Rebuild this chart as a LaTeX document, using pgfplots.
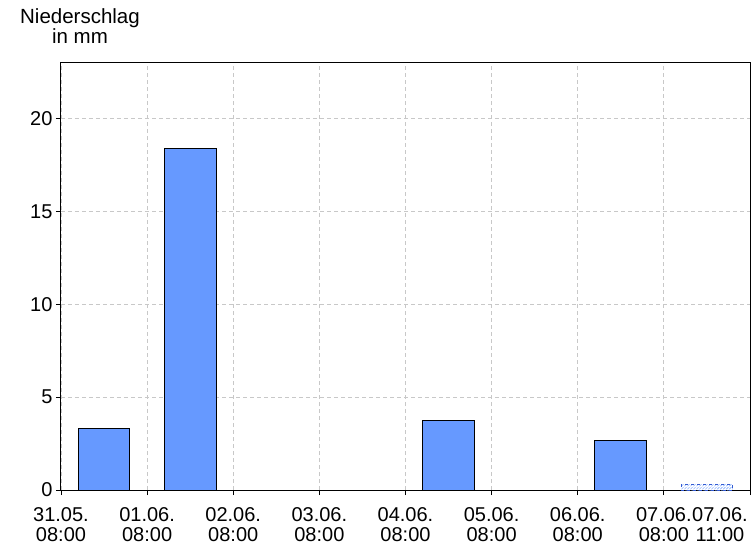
\documentclass[border=0pt]{standalone}
\usepackage{fontspec}
\setmainfont{Liberation Sans}
\usepackage{pgfplots}
\pgfplotsset{compat=1.18}
\usetikzlibrary{patterns}
\definecolor{barblue}{RGB}{102,153,255}
\definecolor{hatchblue}{RGB}{50,90,210}
\definecolor{gridgray}{RGB}{200,200,200}
\begin{document}
\begin{tikzpicture}
\path (-61bp,-56bp) rectangle (695bp,490bp);
\begin{axis}[
    at={(0,0)}, anchor=south west,
    scale only axis,
    width=689bp, height=427bp,
    xmin=0, xmax=8,
    ymin=0, ymax=23,
    axis line style={line width=1bp},
    xtick={0,...,7},
    xticklabels={{31.05.\\08:00},{01.06.\\08:00},{02.06.\\08:00},{03.06.\\08:00},
                 {04.06.\\08:00},{05.06.\\08:00},{06.06.\\08:00},{07.06.\\08:00}},
    extra x ticks={8},
    extra x tick labels={{07.06.\\11:00}},
    extra x tick style={grid=none, xticklabel style={xshift=-30bp}},
    ytick={0,5,10,15,20},
    tick pos=left,
    tick align=outside,
    major tick length=5bp,
    tick style={black, line width=0.8bp},
    xticklabel style={font=\fontsize{20bp}{20bp}\selectfont, align=center, yshift=-9bp},
    yticklabel style={font=\fontsize{20bp}{20bp}\selectfont},
    /pgf/number format/assume math mode=true,
    xmajorgrids, ymajorgrids,
    grid style={gridgray, dash pattern=on 4bp off 3bp, line width=0.8bp},
    ybar, bar width=0.6, bar shift=0pt,
    clip=false,
]
\addplot[fill=barblue, draw=black, line width=1bp] coordinates {
    (0.5, 3.3)
    (1.5, 18.4)
    (4.5, 3.73)
    (6.5, 2.68)
};
\addplot[draw=hatchblue, dashed, line width=0.8bp,
         pattern=north east lines, pattern color=barblue] coordinates {
    (7.5, 0.28)
};
\end{axis}
\node[anchor=north, align=center, inner sep=0pt,
      font=\fontsize{20.5bp}{18bp}\selectfont] at (19bp,482bp) {Niederschlag\\in mm};
\end{tikzpicture}
\end{document}
